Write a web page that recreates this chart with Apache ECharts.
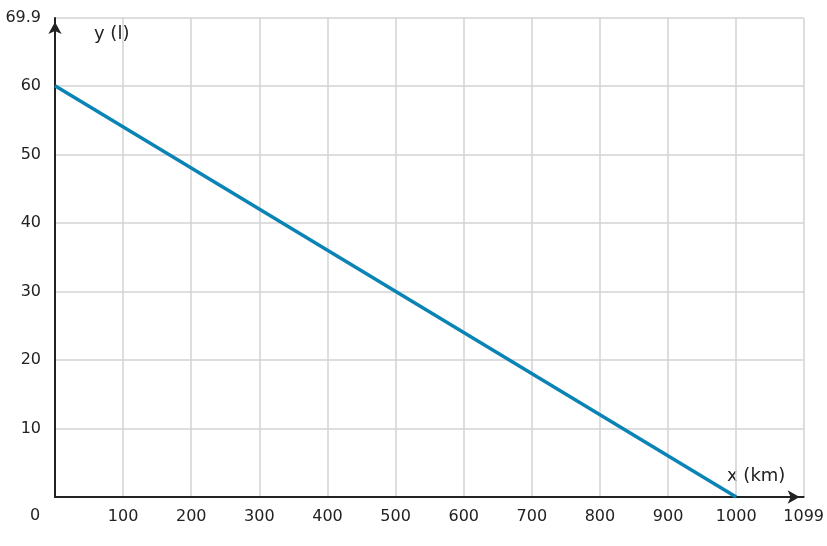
<!DOCTYPE html><html><head><meta charset="utf-8"><script src="https://cdn.jsdelivr.net/npm/echarts@6/dist/echarts.min.js"></script></head><body style="margin:0"><div id="c" style="width:827px;height:546px"></div><script>
var xValues=[0,1000];
var yValues=[60,0];
var chart=echarts.init(document.getElementById('c'));
var F='DejaVu Sans';
chart.setOption({animation:false,
grid:{left:55,right:19,top:18,bottom:49},
xAxis:{type:'value',min:0,max:1099,interval:100,
 axisLine:{lineStyle:{color:'#222',width:2},symbol:['none','arrow'],symbolSize:[10,12],symbolOffset:[0,-4]},
 axisTick:{show:false},splitLine:{lineStyle:{color:'#d3d3d3',width:1.5}},
 axisLabel:{color:'#222',fontSize:16,fontFamily:F,margin:12,formatter:function(v){return v===0?'':String(v);}}},
yAxis:{type:'value',min:0,max:69.9,interval:10,
 axisLine:{lineStyle:{color:'#222',width:2},symbol:['none','arrow'],symbolSize:[10,12],symbolOffset:[0,-4]},
 axisTick:{show:false},splitLine:{lineStyle:{color:'#d3d3d3',width:1.5}},
 axisLabel:{color:'#222',fontSize:16,fontFamily:F,margin:14,formatter:function(v){return v===0?'':String(v);}}},
graphic:[
 {type:'text',left:30,top:508,style:{text:'0',fill:'#222',font:'16px DejaVu Sans'}},
 {type:'text',left:94,top:25,style:{text:'y (l)',fill:'#222',font:'18px DejaVu Sans'}},
 {type:'text',left:727,top:467,style:{text:'x (km)',fill:'#222',font:'18px DejaVu Sans'}}
],
series:[{type:'line',data:xValues.map(function(x,i){return [x,yValues[i]];}),showSymbol:false,lineStyle:{color:'#0a84b5',width:3.5}}]
});
</script></body></html>
